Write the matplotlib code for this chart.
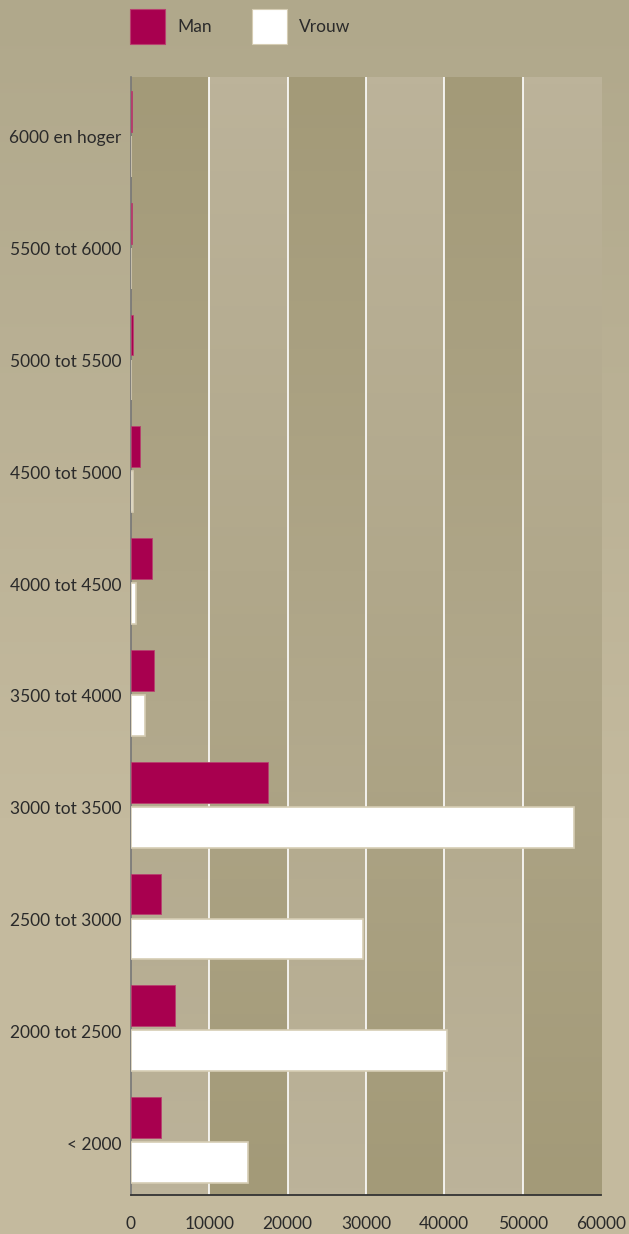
import numpy as np
import matplotlib
matplotlib.use("Agg")
import matplotlib.pyplot as plt
import matplotlib.transforms as mtransforms
from matplotlib.colors import LinearSegmentedColormap
from matplotlib.patches import Rectangle

plt.rcParams['font.family'] = ['Lato', 'DejaVu Sans']

categories = ["6000 en hoger", "5500 tot 6000", "5000 tot 5500", "4500 tot 5000",
              "4000 tot 4500", "3500 tot 4000", "3000 tot 3500", "2500 tot 3000",
              "2000 tot 2500", "< 2000"]
man = [150, 150, 250, 1200, 2700, 2950, 17500, 3850, 5600, 3850]
vrouw = [50, 50, 50, 250, 600, 1800, 56600, 29600, 40350, 14950]
xticks = [0, 10000, 20000, 30000, 40000, 50000, 60000]
series_names = ["Man", "Vrouw"]

W, H = 629, 1234
fig = plt.figure(figsize=(W / 100, H / 100), dpi=100)
fig.patch.set_facecolor("#c4ba9e")

# background gradient (top darker)
bg = fig.add_axes([0, 0, 1, 1], zorder=-10)
grad = np.linspace(0, 1, 400).reshape(-1, 1)
bgcmap = LinearSegmentedColormap.from_list("bg", ["#b0a88b", "#bab195", "#c4ba9e", "#c4ba9e"])
bg.imshow(grad, aspect="auto", cmap=bgcmap, extent=[0, 1, 1, 0])
bg.set_axis_off()

left, right, top, bottom = 131, 601, 77, 1195
ax = fig.add_axes([left / W, 1 - bottom / H, (right - left) / W, (bottom - top) / H])
ax.set_facecolor("none")

n = len(categories)

# stripes with vertical gradient
dark, light = "#a39a78", "#bcb39a"
cm_dl = LinearSegmentedColormap.from_list("dl", [dark, light])
g = np.linspace(0, 1, 200).reshape(-1, 1)
for k in range(6):
    x0, x1 = xticks[k], xticks[k + 1]
    arr = g if k % 2 == 0 else 1 - g
    ax.imshow(arr, aspect="auto", cmap=cm_dl, vmin=0, vmax=1,
              extent=[x0, x1, n - 0.5, -0.5], zorder=0, interpolation="bilinear")
ax.set_xlim(0, 60000)
ax.set_ylim(n - 0.5, -0.5)

for xv in xticks[1:-1]:
    ax.axvline(xv, color="white", lw=1.2, zorder=1)

y = np.arange(n)
h = 0.365
ax.barh(y - 0.192, man, height=h, color="#a8004f", edgecolor="#b8406f", lw=0.6, zorder=3)
ax.barh(y + 0.21, vrouw, height=h, color="white", edgecolor="#d6cdb4", lw=1.2, zorder=3)

ax.set_yticks(y)
ax.set_yticklabels(categories, fontsize=12.5, color="#2a2a2a")
ax.set_xticks(xticks)
ax.set_xticklabels([str(v) for v in xticks], fontsize=12.5, color="#2a2a2a")
ax.tick_params(axis="both", length=0)
ax.tick_params(axis="x", pad=15)
ax.tick_params(axis="y", pad=7)
shift = mtransforms.ScaledTranslation(0, -4 / 100, fig.dpi_scale_trans)
for lab in ax.get_yticklabels():
    lab.set_transform(lab.get_transform() + shift)
for s in ["top", "right"]:
    ax.spines[s].set_visible(False)
ax.spines["left"].set_color("#777777")
ax.spines["left"].set_linewidth(1.2)
ax.spines["bottom"].set_color("#333333")
ax.spines["bottom"].set_linewidth(1.3)
ax.spines["left"].set_zorder(2)

# legend
def px(xp, yp):
    return xp / W, 1 - yp / H

for (x0, name, fc, ec, tx) in [(130, series_names[0], "#a8004f", "#b8406f", 177),
                              (252, series_names[1], "white", "#d6cdb4", 299)]:
    fx, fy = px(x0, 44)
    fig.add_artist(Rectangle((fx, fy), 35 / W, 35 / H, transform=fig.transFigure,
                             facecolor=fc, edgecolor=ec, lw=0.8))
    tx_, ty_ = px(tx, 27)
    fig.text(tx_, ty_, name, fontsize=12.5, color="#2a2a2a", va="center", ha="left")

fig.savefig("out.png", dpi=100, facecolor=fig.get_facecolor())
